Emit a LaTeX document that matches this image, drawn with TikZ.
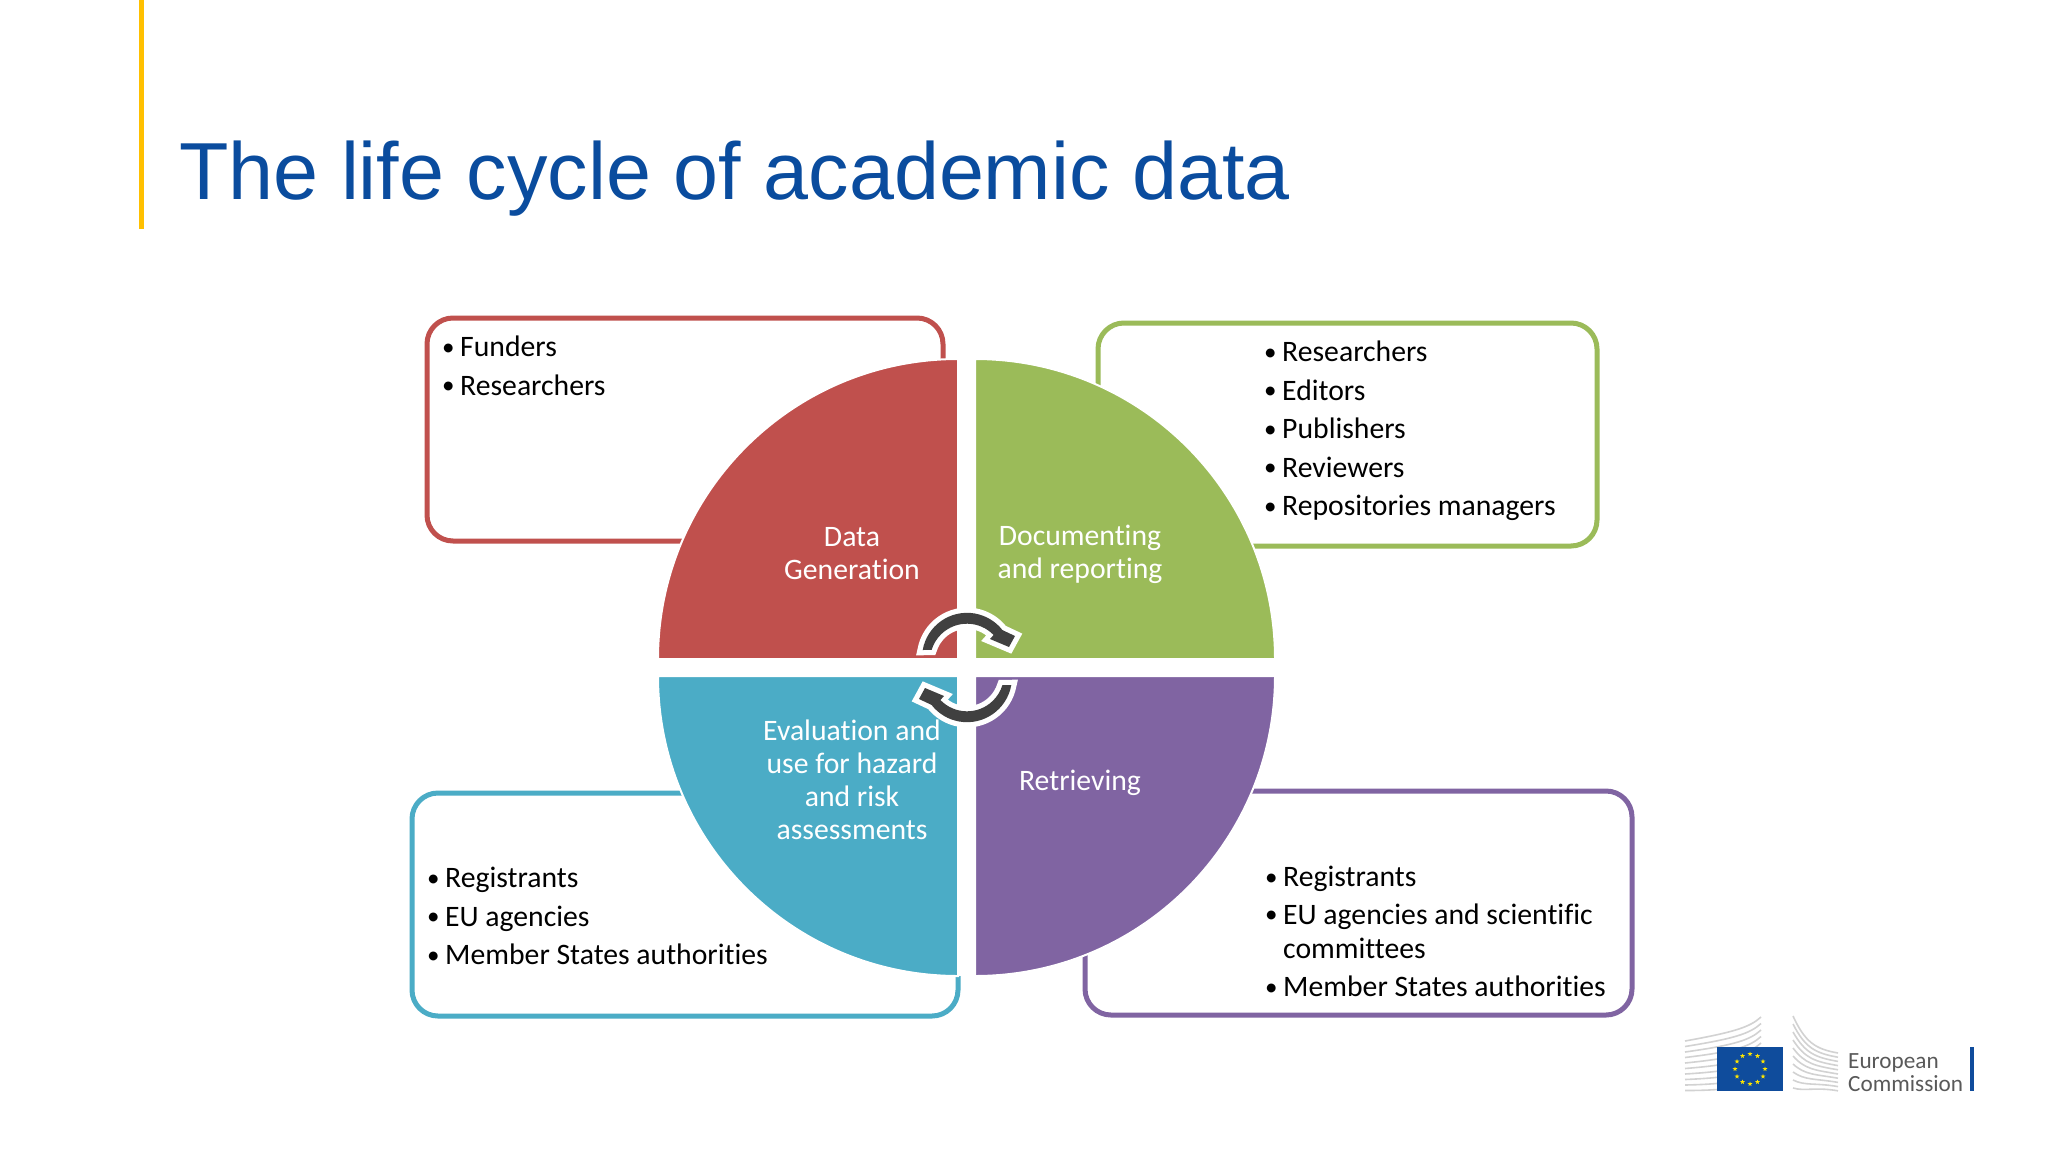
\documentclass[tikz,border=0pt]{standalone}
\usepackage{fontspec}
\setmainfont{Carlito}[Ligatures=NoCommon]
\newfontfamily\titlefont{Liberation Sans}
\usetikzlibrary{shapes.geometric}
\definecolor{cred}{HTML}{C0504D}
\definecolor{cgreen}{HTML}{9BBB59}
\definecolor{cblue}{HTML}{4BACC6}
\definecolor{cpurple}{HTML}{8064A2}
\definecolor{cdark}{HTML}{404040}
\definecolor{ctitle}{HTML}{0A4C9E}
\definecolor{cbar}{HTML}{FFC000}
\definecolor{ceu}{HTML}{0F4C9C}
\definecolor{cstar}{HTML}{FFE600}
\definecolor{cgrey}{HTML}{D2D2D2}
\newcommand\lit[1]{\makebox[17pt][l]{\hspace*{-1pt}\raisebox{1.5pt}{\fontsize{25}{25}\selectfont •}}#1}
\newcommand\cyclearrow{%
  \path[preaction={draw=white,line width=10.5pt,miter limit=6},fill=cdark]
    (922.7,650) arc[start angle=190,end angle=322,radius=45]
    -- (1015,636) -- (1009,647) -- (990,639)
    -- (993.6,635) arc[start angle=316,end angle=197,radius=37] -- cycle;}
\tikzset{
  pie/.style={draw=white,line width=2pt},
  listbox/.style={rounded corners=26pt,line width=5pt,fill=white},
  listtext/.style={anchor=north west,inner sep=0pt,align=left,text=black,
    font=\fontsize{29.7}{34}\selectfont},
  pietext/.style={inner sep=0pt,align=center,text=white,
    font=\fontsize{29.7}{33}\selectfont},
  logotext/.style={anchor=base west,inner sep=0pt,text=black!65,font=\fontsize{23.2}{24}\selectfont},
  eustar/.style={star,star points=5,star point ratio=2.4,fill=cstar,inner sep=0pt,minimum size=5pt}
}
\begin{document}
\begin{tikzpicture}[x=1pt,y=-1pt]
\useasboundingbox (0,0) rectangle (2048,1152);
\fill[white] (0,0) rectangle (2048,1152);
\fill[cbar] (139,0) rectangle (144,229);
\node[anchor=base west,inner sep=0pt,text=ctitle,font=\titlefont\fontsize{80.9}{81}\selectfont] (title) at (179,199) {The life cycle of academic data};

% boxes
\draw[listbox,draw=cred] (427,318) rectangle (943,541);
\draw[listbox,draw=cgreen] (1098,323) rectangle (1597,546);
\draw[listbox,draw=cblue] (412,793) rectangle (958,1016);
\draw[listbox,draw=cpurple] (1085,791) rectangle (1632,1015);
\fill[white] (957,700) rectangle (976,976);

% quadrants
\path[pie,fill=cred] (958,659) -- (658,659) arc[start angle=180,end angle=270,radius=300] -- cycle;
\path[pie,fill=cgreen] (975,659) -- (975,359) arc[start angle=270,end angle=360,radius=300] -- cycle;
\path[pie,fill=cblue] (958,676) -- (958,976) arc[start angle=90,end angle=180,radius=300] -- cycle;
\path[pie,fill=cpurple] (975,676) -- (1275,676) arc[start angle=0,end angle=90,radius=300] -- cycle;

% lists
\node[listtext] (l1) at (443,336) {\lit{Funders}\\[4.5pt]\lit{Researchers}};
\node[listtext] (l2) at (1265,341) {\lit{Researchers}\\[4.5pt]\lit{Editors}\\[4.5pt]\lit{Publishers}\\[4.5pt]\lit{Reviewers}\\[4.5pt]\lit{Repositories managers}};
\node[listtext] (l3) at (428,867) {\lit{Registrants}\\[4.5pt]\lit{EU agencies}\\[4.5pt]\lit{Member States authorities}};
\node[listtext] (l4) at (1266,866) {\lit{Registrants}\\[3.5pt]\lit{EU agencies and scientific}\\\hspace*{17pt}committees\\[4.5pt]\lit{Member States authorities}};

% quadrant labels
\node[pietext] (q1) at (852,554) {Data\\Generation};
\node[pietext] (q2) at (1080,554.5) {Documenting\\and reporting};
\node[pietext] (q3) at (852,780) {Evaluation and\\use for hazard\\and risk\\assessments};
\node[pietext] (q4) at (1080,783) {Retrieving};

% cycle arrows
\cyclearrow
\begin{scope}[rotate around={180:(967,667.5)}]
\cyclearrow
\end{scope}

% logo
\foreach \i in {0,...,9}{
  \pgfmathsetmacro\yl{1041+5.5*\i}
  \pgfmathsetmacro\yr{1017+6.5*\i}
  \draw[cgrey,line width=1.6pt] (1685,\yl) .. controls (1735,\yl-9+\i) and (1750,\yr+10) .. (1761,\yr);
  \pgfmathsetmacro\ylb{1016+8*\i}
  \pgfmathsetmacro\yrb{1053+4.2*\i}
  \draw[cgrey,line width=1.6pt] (1793,\ylb) .. controls (1805,\ylb+26-2.5*\i) and (1815,\yrb-4) .. (1838,\yrb);
}
\fill[ceu] (1717,1047) rectangle (1783,1091);
\foreach \i in {0,...,11}{
  \node[eustar] (s\i) at ({1750+15*cos(30*\i)},{1069+15*sin(30*\i)}) {};
}
\node[logotext] (eu1) at (1848,1068) {European};
\node[logotext] (eu2) at (1848,1091) {Commission};
\fill[ceu] (1970,1047) rectangle (1974,1091);
\end{tikzpicture}
\end{document}
